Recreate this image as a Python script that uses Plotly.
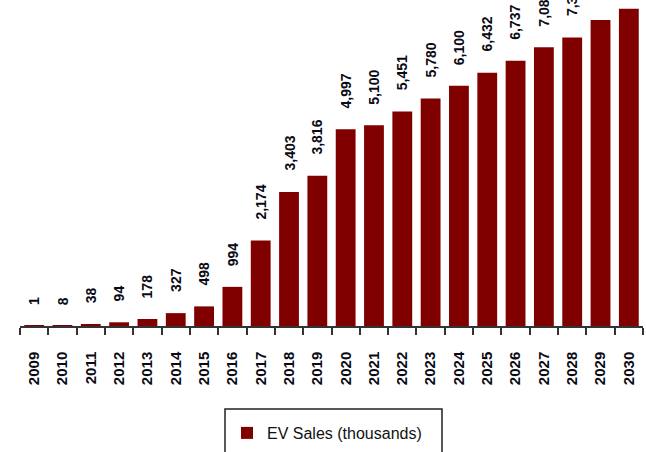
import plotly.graph_objects as go

years = [str(y) for y in range(2009, 2031)]
ev_sales = [1, 8, 38, 94, 178, 327, 498, 994, 2174, 3403, 3816, 4997, 5100, 5451,
            5780, 6100, 6432, 6737, 7080, 7330, 7770, 8060]
series_name = "EV Sales (thousands)"

BAR_COLOR = "#800000"
FONT = "Liberation Sans, Arial, sans-serif"

fig = go.Figure()
fig.add_trace(go.Bar(
    x=years, y=ev_sales, name=series_name,
    marker=dict(color=BAR_COLOR, line=dict(width=0)),
    showlegend=True,
))

annotations = []
for i, v in enumerate(ev_sales):
    annotations.append(dict(
        x=i, y=v, xref="x", yref="y", text=f"<b>{v:,}</b>", showarrow=False,
        textangle=-90, yanchor="bottom", xanchor="center", yshift=19,
        font=dict(family=FONT, size=14, color="#0a0a14"),
    ))

L, R, T, B = 20, 3, 0, 126
W, H = 646, 452
pw, ph = W - L - R, H - T - B

def px_x(p):
    return (p - L) / pw

def px_y(p):
    return (H - B - p) / ph

fig.update_layout(
    template="none",
    width=W, height=H,
    margin=dict(l=L, r=R, t=T, b=B, pad=0, autoexpand=False),
    paper_bgcolor="white", plot_bgcolor="white",
    bargap=0.3,
    font=dict(family=FONT, size=15, color="#000000"),
    showlegend=True,
    legend=dict(
        orientation="h", x=px_x(227), xanchor="left", y=px_y(433), yanchor="middle",
        font=dict(family=FONT, size=16, color="#111111"),
        bgcolor="rgba(0,0,0,0)", borderwidth=0,
    ),
    annotations=annotations,
    shapes=[dict(
        type="rect", xref="paper", yref="paper",
        x0=px_x(225), x1=px_x(442), y0=px_y(475), y1=px_y(409),
        line=dict(color="#222222", width=1.5), fillcolor="rgba(0,0,0,0)",
        layer="above",
    )],
)

fig.update_xaxes(
    type="category", range=[-0.5, len(years) - 0.5], tickangle=-90, tickson="boundaries",
    ticks="outside", ticklen=7, tickwidth=1.5, tickcolor="#333333",
    showline=True, linecolor="#333333", linewidth=1.5, automargin=False,
    showgrid=False, zeroline=False, ticklabelstandoff=18,
    tickfont=dict(family=FONT, size=15, color="#0a0a14", weight="bold"),
)
fig.update_yaxes(
    range=[0, 8280], visible=False, showgrid=False, zeroline=False, automargin=False,
)

fig.write_html(
    "out.html",
    config={"displayModeBar": False},
    post_script="document.body.style.margin='0';document.body.style.overflow='hidden';",
)
